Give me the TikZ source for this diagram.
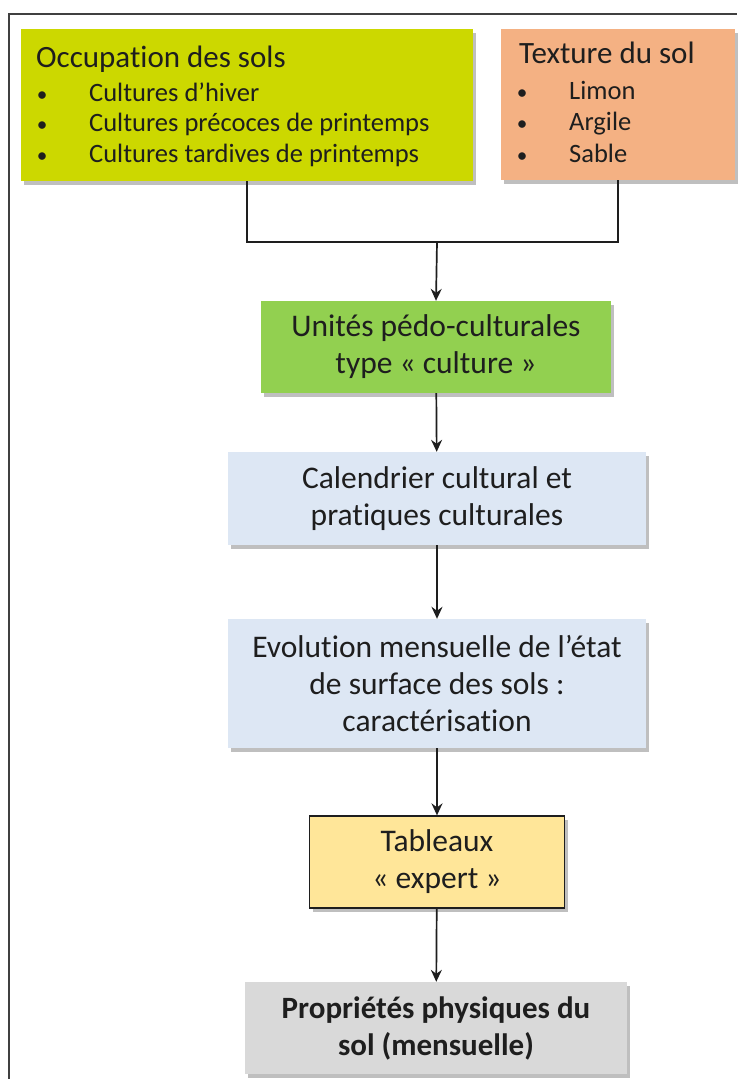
\documentclass[tikz,border=0pt]{standalone}
\usepackage{fontspec}
\setmainfont{Carlito}[Ligatures=NoCommon]
\usetikzlibrary{shadows,arrows.meta}
\definecolor{occc}{RGB}{204,216,0}
\definecolor{texc}{RGB}{244,177,131}
\definecolor{upcc}{RGB}{146,208,80}
\definecolor{bluec}{RGB}{221,231,244}
\definecolor{tabc}{RGB}{255,230,153}
\definecolor{greyc}{RGB}{217,217,217}
\definecolor{inkc}{RGB}{30,30,30}
\definecolor{framec}{RGB}{64,64,64}
\tikzset{
  box/.style={rectangle, inner sep=0pt, text=inkc, align=center,
    drop shadow={shadow xshift=3pt, shadow yshift=-4pt, fill=black, opacity=0.25},
    font=\fontsize{31.5}{37}\selectfont},
  listtext/.style={anchor=north west, inner sep=0pt, text=inkc, align=left},
  link/.style={line width=1.7pt, draw=inkc},
  arr/.style={link, -{Stealth[length=12pt,width=11pt,inset=4pt]}}
}
% bullet line: #1 = bullet centre offset, #2 = gap to the item text, #3 = item
\newcommand{\bulletitem}[3]{\hspace*{#1}\makebox[0pt]{\scalebox{0.8}{\textbullet}}\hspace*{#2}#3\par}
\newcommand{\listtitle}[1]{\fontsize{31}{36}\selectfont\spaceskip=0pt\xspaceskip=0pt
  \rule{0pt}{24pt}#1\par}
\newcommand{\listbody}[1]{\fontsize{26.5}{#1}\selectfont\spaceskip=0pt\xspaceskip=0pt}
\begin{document}
\begin{tikzpicture}[x=1pt,y=-1pt]
\useasboundingbox (0,0) rectangle (737,1079);
\fill[white] (0,0) rectangle (737,1079);
% outer frame (only its top and left sides fall inside the page)
\draw[framec, line width=2pt] (9,1079) -- (9,14) -- (737,14);

% input boxes
\node[box, fill=occc, minimum width=452pt, minimum height=152pt] (occ) at (247,105) {};
\node[listtext, text width=420pt] (occtxt) at (36,43) {%
  \listtitle{Occupation des sols}%
  \listbody{30.5}\vspace{3.5pt}%
  \bulletitem{6pt}{47pt}{Cultures d’hiver}%
  \bulletitem{6pt}{47pt}{Cultures précoces de printemps}%
  \bulletitem{6pt}{47pt}{Cultures tardives de printemps}};

\node[box, fill=texc, minimum width=234pt, minimum height=151pt] (tex) at (618,104.5) {};
\node[listtext, text width=200pt] (textxt) at (519,39) {%
  \listtitle{Texture du sol}%
  \listbody{31.5}\vspace{4.5pt}%
  \bulletitem{3pt}{47pt}{Limon}%
  \bulletitem{3pt}{47pt}{Argile}%
  \bulletitem{3pt}{47pt}{Sable}};

% processing chain
\node[box, fill=upcc, minimum width=350pt, minimum height=92pt]
  (upc) at (436,347) {Unités pédo-culturales\\type « culture »};
\node[box, fill=bluec, minimum width=418pt, minimum height=93pt]
  (cal) at (437,498.5) {Calendrier cultural et\\pratiques culturales};
\node[box, fill=bluec, minimum width=418pt, minimum height=129pt]
  (evo) at (437,683.5) {Evolution mensuelle de l’état\\de surface des sols :\\caractérisation};
\node[box, fill=tabc, draw=inkc, line width=1.3pt, minimum width=255pt, minimum height=92pt]
  (tab) at (437,862) {Tableaux\\« expert »};
\node[box, fill=greyc, minimum width=382pt, minimum height=92pt, font=\fontsize{31}{37}\selectfont\bfseries]
  (pro) at (436,1028) {Propriétés physiques du\\sol (mensuelle)};

% connectors
\coordinate (j) at (437,242);
\draw[link] (occ.south) -- (occ.south |- j) -- (tex.south |- j) -- (tex.south);
\draw[arr] (j) -- (upc.north);
\draw[arr] (upc) -- (cal);
\draw[arr] (cal) -- (evo);
\draw[arr] (evo) -- (tab);
\draw[arr] (tab) -- (pro);
\end{tikzpicture}
\end{document}
